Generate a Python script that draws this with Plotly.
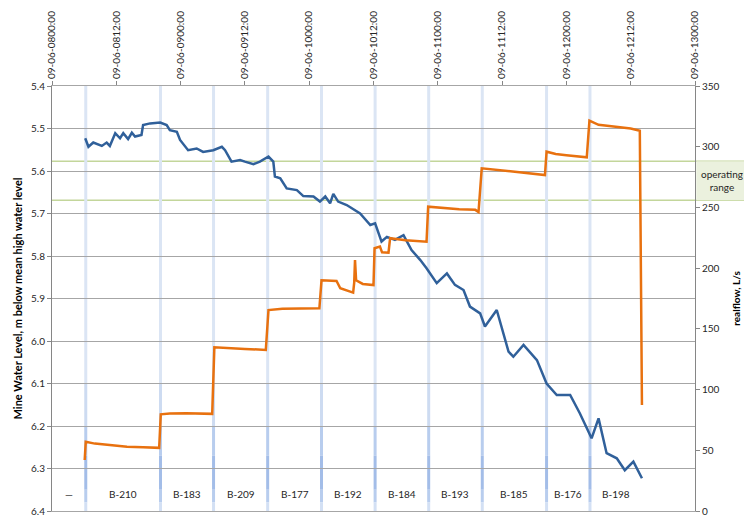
import pandas as pd
import plotly.graph_objects as go

START = pd.Timestamp("2009-06-08 00:00")

# Mine water level (m below mean high water level), hours after START
level_hours = [6.2, 6.8, 7.7, 9.3, 10.2, 10.8, 11.8, 12.7, 13.3, 14.2,
               14.9, 15.5, 16.7, 17.0, 18.3, 20.2, 21.4, 22.0, 23.3, 23.9,
               25.4, 27.0, 28.2, 30.1, 31.7, 32.3, 33.5, 35.1, 36.0, 37.6,
               38.8, 40.4, 41.3, 41.6, 42.6, 43.8, 45.7, 46.9, 48.8, 50.0,
               51.0, 51.9, 52.5, 53.4, 55.0, 57.5, 59.4, 60.3, 61.5, 62.5,
               64.0, 65.6, 67.1, 68.7, 69.9, 71.8, 73.7, 75.2, 76.8, 78.0,
               79.9, 80.8, 83.0, 85.2, 86.1, 88.0, 90.5, 92.3, 94.2, 96.7,
               98.5, 100.7, 102.0, 103.5, 105.4, 106.9, 108.5, 110.1]
level_m = [5.523, 5.543, 5.533, 5.541, 5.533, 5.541, 5.511, 5.523, 5.511, 5.525,
           5.510, 5.519, 5.515, 5.492, 5.488, 5.486, 5.492, 5.504, 5.508, 5.527,
           5.551, 5.547, 5.555, 5.551, 5.543, 5.551, 5.578, 5.574, 5.578, 5.584,
           5.578, 5.566, 5.578, 5.613, 5.617, 5.641, 5.645, 5.659, 5.660, 5.672,
           5.660, 5.676, 5.654, 5.672, 5.680, 5.700, 5.727, 5.723, 5.766, 5.755,
           5.762, 5.751, 5.786, 5.809, 5.829, 5.864, 5.841, 5.868, 5.880, 5.919,
           5.935, 5.966, 5.927, 6.025, 6.037, 6.009, 6.045, 6.100, 6.127, 6.127,
           6.170, 6.229, 6.182, 6.264, 6.276, 6.304, 6.284, 6.323]

# Pumped flow (L/s), hours after START
flow_hours = [6.1, 6.3, 8.0, 11.0, 14.0, 17.0, 20.0, 20.3, 22.0, 25.0,
              28.0, 29.9, 30.3, 33.0, 36.0, 39.9, 40.4, 43.0, 46.0, 49.9,
              50.3, 53.1, 53.8, 56.2, 56.4, 56.55, 56.75, 58.0, 60.0, 60.2,
              61.2, 61.6, 62.8, 63.1, 66.0, 69.9, 70.2, 73.0, 76.0, 79.0,
              79.6, 80.2, 83.0, 86.0, 89.0, 92.0, 92.3, 94.0, 96.0, 99.8,
              100.3, 102.0, 104.0, 106.0, 108.0, 109.7, 110.1]
flow_ls = [42, 57, 55.5, 54, 53, 52.5, 52, 79.6, 80.3, 80.6,
           80.2, 80, 134.8, 134, 133.5, 132.6, 165.5, 166.5, 166.8, 166.9,
           190, 189.4, 183.4, 179.8, 188, 206.7, 190, 187, 186.1, 216.4,
           217.7, 213, 212.7, 224.6, 223, 221.8, 250.6, 249.5, 248.5, 248,
           246.2, 282.2, 281, 279.5, 278, 276.7, 295.9, 294, 293, 291.3,
           321.4, 318, 317, 316, 315, 313.2, 87.3]

# Pump changeover times (hours after START) and the pump running in each period
event_hours = [6.3, 20.25, 30.15, 40.25, 50.3, 60.3, 70.3, 80.3, 92.3, 100.4]
segment_end_hours = 110.1
segment_labels = ["—", "B-210", "B-183", "B-209", "B-177", "B-192",
                  "B-184", "B-193", "B-185", "B-176", "B-198"]

# Operating range (L/s)
operating_range = [256, 288]

# Top axis ticks every 12 hours
tick_hours = [0, 12, 24, 36, 48, 60, 72, 84, 96, 108, 120]
tick_text = ["09-06-0800:00", "09-06-0812:00", "09-06-0900:00", "09-06-0912:00",
             "09-06-1000:00", "09-06-1012:00", "09-06-1100:00", "09-06-1112:00",
             "09-06-1200:00", "09-06-1212:00", "09-06-1300:00"]


def at(hours):
    return [START + pd.to_timedelta(h, unit="h") for h in hours]


FONT = "Lato"
TXT = "#262626"

fig = go.Figure()

fig.add_trace(go.Scatter(
    x=at(flow_hours), y=flow_ls, yaxis="y2", mode="lines",
    line=dict(color="#e8710f", width=2.5), showlegend=False,
))
fig.add_trace(go.Scatter(
    x=at(level_hours), y=level_m, mode="lines",
    line=dict(color="#30609a", width=2.5), showlegend=False,
))

shapes = []
# Pump changeover markers, shaded darker towards the label row
bands = [(5.4, 6.1, "#dbe5f4"), (6.1, 6.2, "#cddbf1"), (6.2, 6.27, "#b8cdee"),
         (6.27, 6.35, "#a3bde8"), (6.35, 6.38, "#b8cdee"), (6.38, 6.4, "#d3e0f4")]
for t in at(event_hours):
    for y0, y1, c in bands:
        shapes.append(dict(type="line", xref="x", yref="y", x0=t, x1=t,
                           y0=y0, y1=y1, layer="below",
                           line=dict(color=c, width=3)))

# Operating range lines and side box
x_right = (744 - 52) / 643
for v in operating_range:
    shapes.append(dict(type="line", xref="paper", yref="y2", x0=0, x1=x_right,
                       y0=v, y1=v, layer="below",
                       line=dict(color="#c3d69b", width=1.5)))
shapes.append(dict(type="rect", xref="paper", yref="y2", x0=1.002, x1=x_right,
                   y0=operating_range[0], y1=operating_range[1],
                   fillcolor="#ebf1de", line=dict(width=0), layer="below"))

annotations = [dict(xref="paper", yref="y2", x=(722 - 52) / 643,
                    y=sum(operating_range) / 2, text="operating<br>range",
                    showarrow=False, font=dict(family=FONT, size=10, color=TXT),
                    xanchor="center", yanchor="middle")]

bounds = [0] + event_hours + [segment_end_hours]
for i, lab in enumerate(segment_labels):
    mid = (bounds[i] + bounds[i + 1]) / 2
    annotations.append(dict(xref="x", yref="y", x=at([mid])[0], y=6.36,
                            text=lab, showarrow=False,
                            font=dict(family=FONT, size=10, color=TXT)))

fig.update_layout(
    width=744, height=515,
    margin=dict(l=52, r=49, t=86, b=4),
    paper_bgcolor="white", plot_bgcolor="white",
    font=dict(family=FONT, size=10, color=TXT),
    shapes=shapes, annotations=annotations,
    xaxis=dict(
        type="date", side="top",
        range=[START, START + pd.to_timedelta(120, unit="h")],
        tickvals=at(tick_hours), ticktext=tick_text, tickangle=-90,
        ticks="outside", ticklen=4, tickcolor="#868686",
        showgrid=False, zeroline=False,
        showline=True, linecolor="#a6a6a6", linewidth=1, mirror=True,
        tickfont=dict(family=FONT, size=10, color=TXT), automargin=False,
    ),
    yaxis=dict(
        range=[6.4, 5.4], tick0=5.4, dtick=0.1, tickformat=".1f",
        showgrid=True, gridcolor="#a6a6a6", gridwidth=1, zeroline=False,
        showline=True, linecolor="#868686", linewidth=1,
        ticks="outside", ticklen=4, tickcolor="#868686",
        ticklabeloverflow="allow",
        tickfont=dict(family=FONT, size=10, color=TXT),
        title=dict(text="<b>Mine Water Level, m below mean high water level</b>",
                   font=dict(family=FONT, size=11, color="#000000"), standoff=6),
        automargin=False,
    ),
    yaxis2=dict(
        overlaying="y", side="right", range=[0, 350], dtick=50,
        showgrid=False, zeroline=False,
        showline=True, linecolor="#868686", linewidth=1,
        ticks="outside", ticklen=4, tickcolor="#868686",
        ticklabeloverflow="allow",
        tickfont=dict(family=FONT, size=10, color=TXT),
        title=dict(text="<b>realflow, L/s</b>",
                   font=dict(family=FONT, size=10, color="#000000"), standoff=14),
        automargin=False,
    ),
)

fig.write_html("out.html")
